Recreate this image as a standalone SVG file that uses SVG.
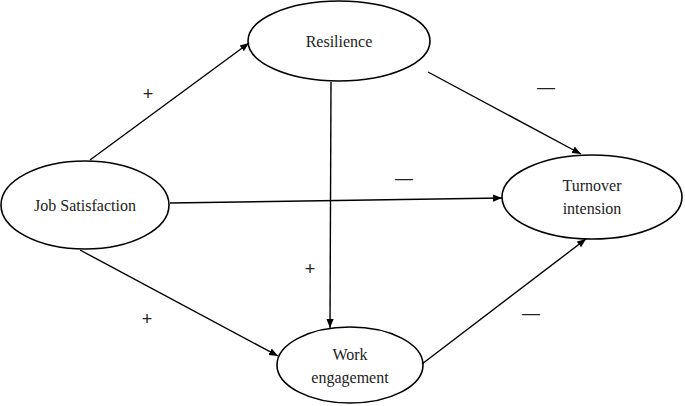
<svg xmlns="http://www.w3.org/2000/svg" width="685" height="406" viewBox="0 0 685 406">
<defs>
<marker id="ah" viewBox="0 0 10 10" refX="10" refY="5" markerWidth="9" markerHeight="9" markerUnits="userSpaceOnUse" orient="auto">
<path d="M0,1 L10,5 L0,9 z" fill="#000"/>
</marker>
<style>
.n{fill:#fff;stroke:#000;stroke-width:1.6}
.t{font-family:'Liberation Serif','Times New Roman',serif;font-size:16px;fill:#222;text-anchor:middle}
.e{stroke:#000;stroke-width:1.4;fill:none;marker-end:url(#ah)}
.s{font-family:'Liberation Sans',Arial,sans-serif;font-size:18px;fill:#222;text-anchor:middle}
</style>
</defs>
<rect width="685" height="406" fill="#fff"/>
<g id="resilience"><ellipse class="n" cx="339" cy="41" rx="91" ry="40"/><text class="t" x="339" y="47" font-family="Liberation Serif, serif">Resilience</text></g>
<g id="job-satisfaction"><ellipse class="n" cx="85" cy="205" rx="84" ry="44"/><text class="t" x="85" y="211" font-family="Liberation Serif, serif">Job Satisfaction</text></g>
<g id="turnover"><ellipse class="n" cx="592" cy="197" rx="90" ry="42"/><text class="t" x="592" y="191" font-family="Liberation Serif, serif">Turnover</text><text class="t" x="592" y="214" font-family="Liberation Serif, serif">intension</text></g>
<g id="work-engagement"><ellipse class="n" cx="350" cy="365" rx="73" ry="38"/><text class="t" x="350" y="360" font-family="Liberation Serif, serif">Work</text><text class="t" x="350" y="383" font-family="Liberation Serif, serif">engagement</text></g>
<g id="connectors">
<line class="e" x1="90" y1="160" x2="249" y2="43"/>
<line class="e" x1="428" y1="72" x2="581" y2="154"/>
<line class="e" x1="170" y1="203" x2="502" y2="198"/>
<line class="e" x1="331" y1="82" x2="330" y2="328"/>
<line class="e" x1="80" y1="250" x2="278" y2="356"/>
<line class="e" x1="422" y1="364" x2="586" y2="239"/>
</g>
<g id="signs">
<text class="s" x="148" y="100">+</text>
<text class="s" x="546" y="93">—</text>
<text class="s" x="404" y="184">—</text>
<text class="s" x="310" y="275">+</text>
<text class="s" x="147" y="325">+</text>
<text class="s" x="531" y="319">—</text>
</g>
</svg>
